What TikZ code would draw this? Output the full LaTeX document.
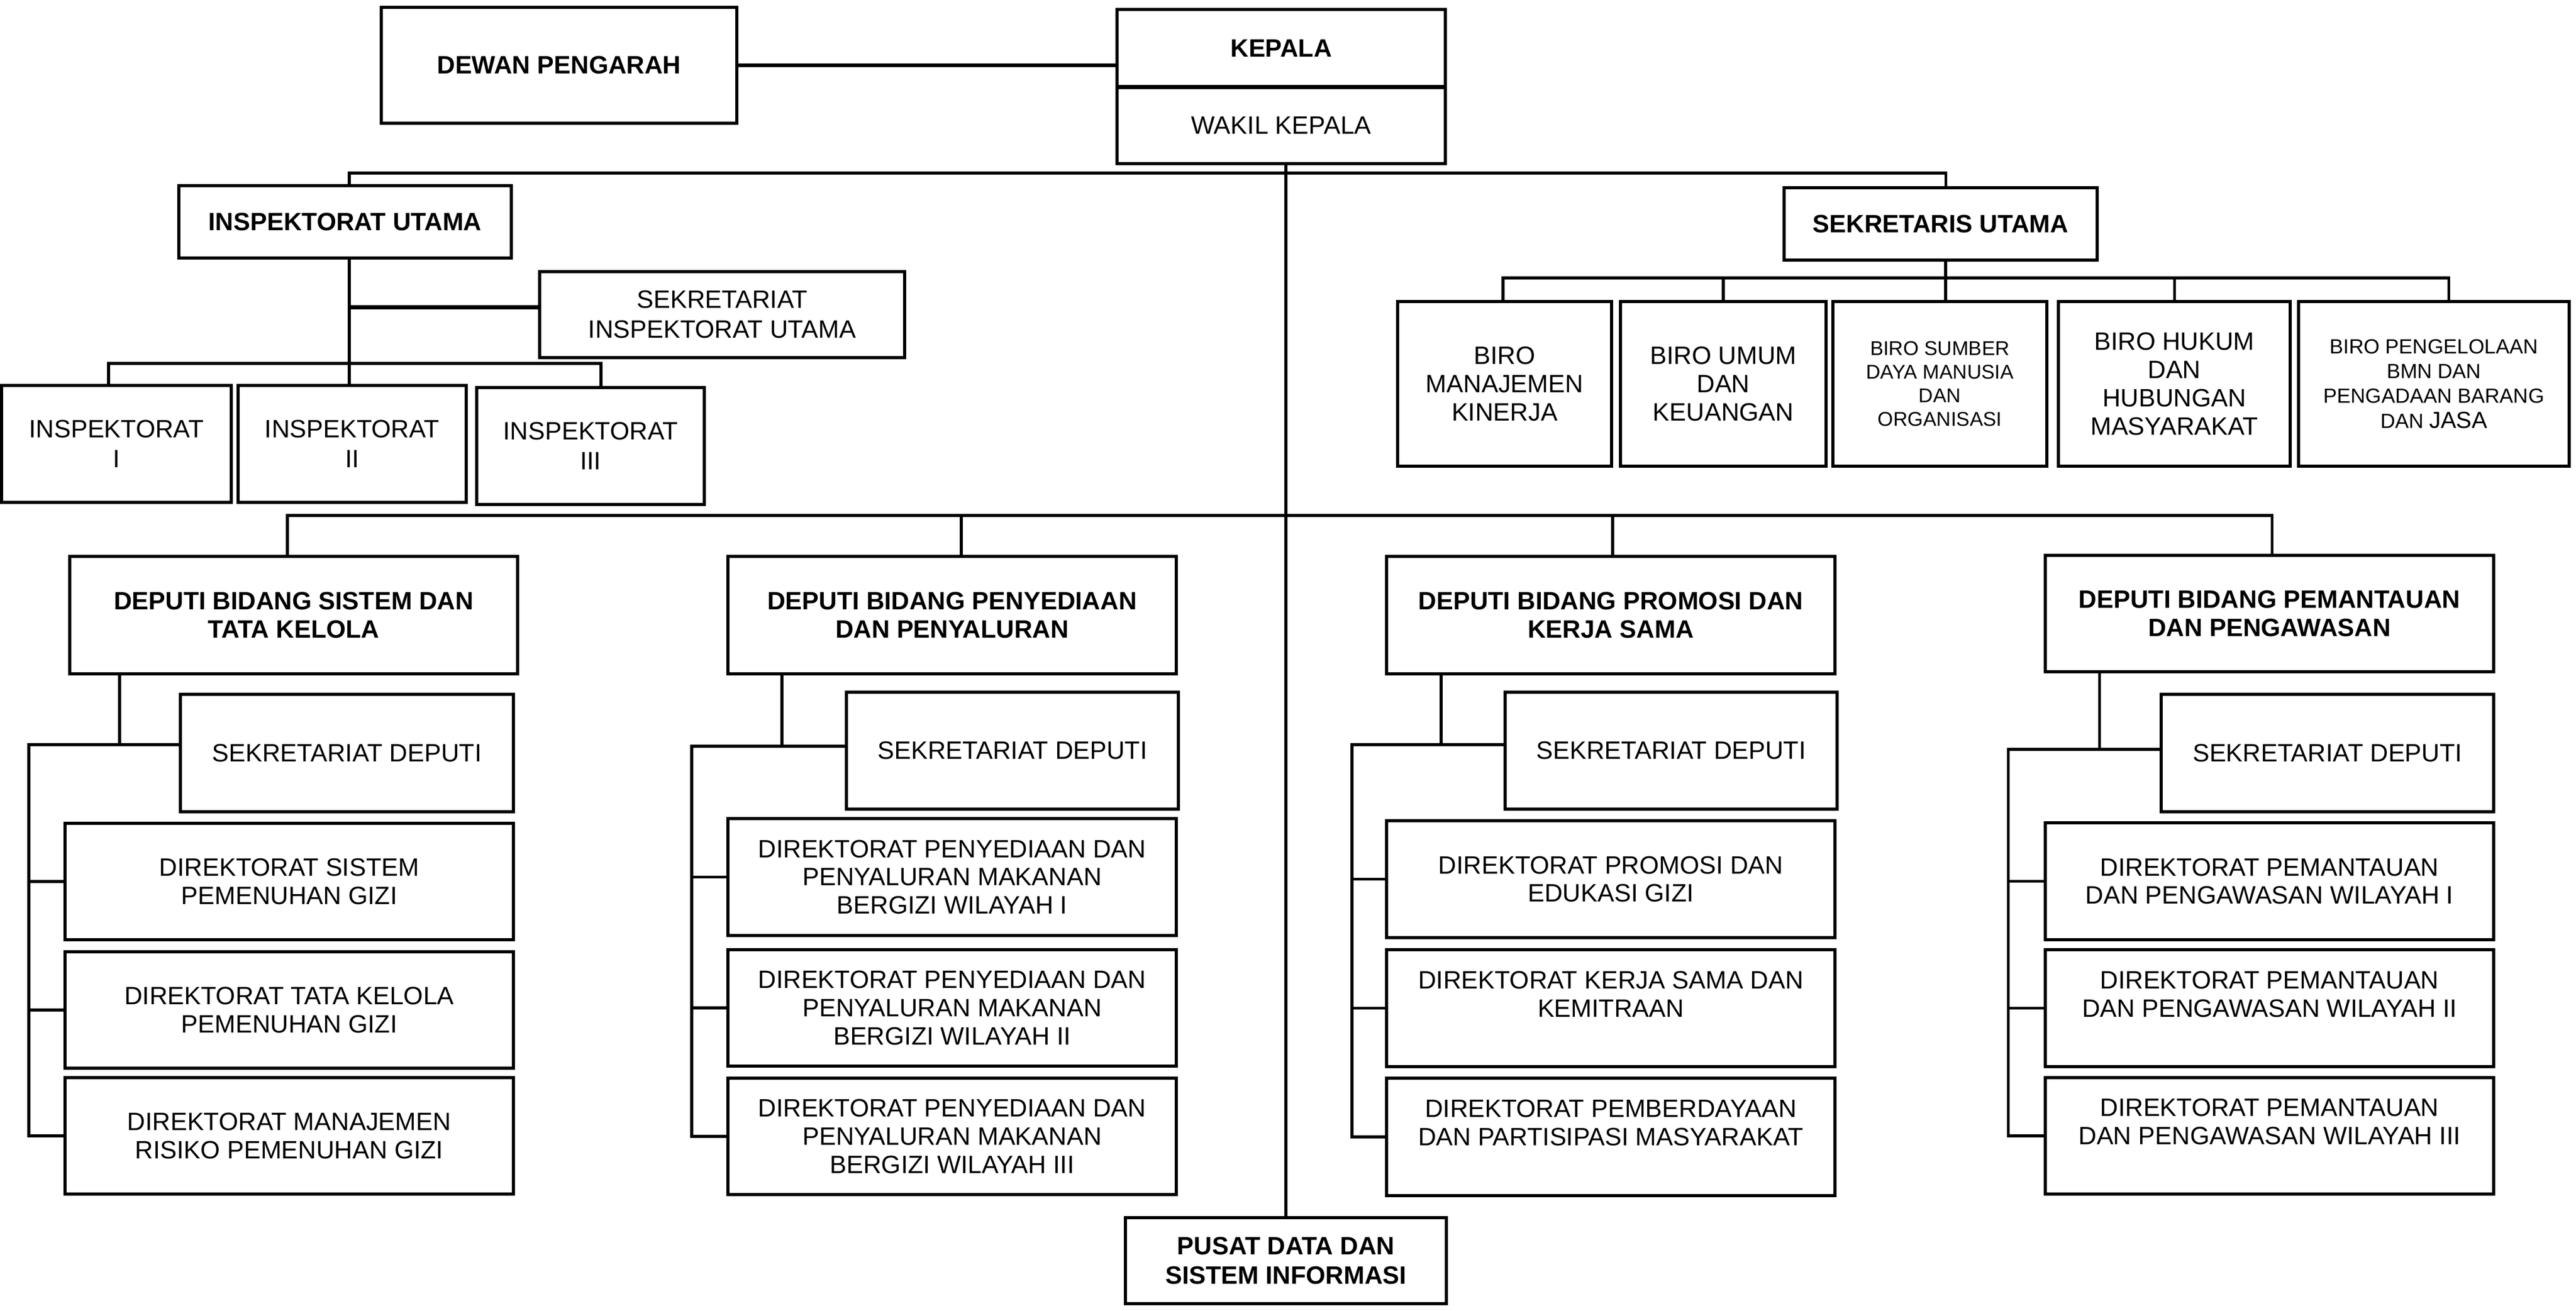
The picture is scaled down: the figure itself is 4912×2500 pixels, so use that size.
\documentclass[tikz,border=0pt]{standalone}
\usepackage{fontspec}
\setmainfont{Liberation Sans}
\newcommand\fm{\fontsize{13.6pt}{15.3pt}\selectfont}
\newcommand\fms{\fontsize{13.6pt}{16.2pt}\selectfont}
\newcommand\fs{\fontsize{10.8pt}{12.8pt}\selectfont}
\newcommand\fp{\fontsize{11.1pt}{13.4pt}\selectfont}
\newcommand\fj{\fontsize{12.6pt}{13.4pt}\selectfont}
% \bx[opts]{name}{x1}{y1}{x2}{y2}{text}
\newcommand\bx[7][]{\node[box,#1,minimum width={(#5-#3)*0.01cm},minimum height={(#6-#4)*0.01cm}] (#2) at ({(#3+#5)/2},{(#4+#6)/2}) {#7};}
% \colconn{deputi}{sekretariat}{dir1}{dir2}{dir3}{vx}{lx}{hy}
\newcommand\colconn[8]{%
  \draw[conn] (#6,0 |- #1.south) -- (#6,#8) -- (#2.west |- 0,#8);
  \draw[conn] (#6,#8) -- (#7,#8) -- (#7,0 |- #5.west) -- (#5.west);
  \draw[conn] (#7,0 |- #3.west) -- (#3.west);
  \draw[conn] (#7,0 |- #4.west) -- (#4.west);}
\begin{document}
\begin{tikzpicture}[x=0.01cm,y=-0.01cm,
  box/.style={draw=black, line width=1.6pt, inner sep=0pt, outer sep=0pt, align=center, font=\fm, fill=white},
  bt/.style={font=\fm\bfseries},
  conn/.style={line width=1.45pt, black},
  heavy/.style={line width=2pt, black},
  trunk/.style={line width=1.8pt, black}]
\fill[white] (0,0) rectangle (4912,2500);
\useasboundingbox (0,0) rectangle (4912,2500);

\coordinate (topbar) at (0,330);
\coordinate (birobar) at (0,530);
\coordinate (depbar) at (0,983);

% ---- top level ----
\bx[bt]{dewan}{727}{14}{1405}{235}{DEWAN PENGARAH}
\bx[bt]{kepala}{2130}{18}{2756}{166}{KEPALA}
\bx{wakil}{2130}{166}{2756}{312}{WAKIL KEPALA}
\bx[bt,font=\fms\bfseries]{pusat}{2146}{2322}{2758}{2486}{PUSAT DATA DAN\\SISTEM INFORMASI}

% ---- inspektorat ----
\bx[bt]{iu}{341}{354}{975}{492}{INSPEKTORAT UTAMA}
\bx[font=\fms]{sekiu}{1029}{518}{1725}{682}{SEKRETARIAT\\INSPEKTORAT UTAMA}
\bx[font=\fms]{insa}{3}{735}{441}{958}{INSPEKTORAT\\I}
\bx[font=\fms]{insb}{454}{735}{889}{958}{INSPEKTORAT\\II}
\bx[font=\fms]{insc}{909}{739}{1343}{962}{INSPEKTORAT\\III}

% ---- sekretaris utama ----
\bx[bt]{su}{3402}{358}{3999}{496}{SEKRETARIS UTAMA}
\bx{bmk}{2665}{575}{3073}{889}{BIRO\\MANAJEMEN\\KINERJA}
\bx{buk}{3090}{575}{3482}{889}{BIRO UMUM\\DAN\\KEUANGAN}
\bx[font=\fs]{bsdm}{3495}{575}{3903}{889}{BIRO SUMBER\\DAYA MANUSIA\\DAN\\ORGANISASI}
\bx{bhk}{3925}{575}{4367}{889}{BIRO HUKUM\\DAN\\HUBUNGAN\\MASYARAKAT}
\bx[font=\fp]{bpg}{4383}{575}{4899}{889}{BIRO PENGELOLAAN\\BMN DAN\\PENGADAAN BARANG\\DAN {\fj JASA}}

% ---- deputi ----
\bx[bt]{da}{133}{1061}{987}{1285}{DEPUTI BIDANG SISTEM DAN\\TATA KELOLA}
\bx[bt]{db}{1388}{1061}{2243}{1285}{DEPUTI BIDANG PENYEDIAAN\\DAN PENYALURAN}
\bx[bt]{dc}{2644}{1061}{3499}{1285}{DEPUTI BIDANG PROMOSI DAN\\KERJA SAMA}
\bx[bt]{dd}{3900}{1059}{4755}{1281}{DEPUTI BIDANG PEMANTAUAN\\DAN PENGAWASAN}

\bx{sa}{344}{1324}{979}{1548}{SEKRETARIAT DEPUTI}
\bx{sb}{1614}{1320}{2247}{1543}{SEKRETARIAT DEPUTI}
\bx{sc}{2870}{1320}{3503}{1543}{SEKRETARIAT DEPUTI}
\bx{sd}{4121}{1324}{4755}{1548}{SEKRETARIAT DEPUTI}

\bx{a1}{124}{1570}{979}{1792}{DIREKTORAT SISTEM\\PEMENUHAN GIZI}
\bx{a2}{124}{1815}{979}{2037}{DIREKTORAT TATA KELOLA\\PEMENUHAN GIZI}
\bx{a3}{124}{2055}{979}{2277}{DIREKTORAT MANAJEMEN\\RISIKO PEMENUHAN GIZI}

\bx{b1}{1388}{1561}{2243}{1784}{DIREKTORAT PENYEDIAAN DAN\\PENYALURAN MAKANAN\\BERGIZI WILAYAH I}
\bx{b2}{1388}{1811}{2243}{2033}{DIREKTORAT PENYEDIAAN DAN\\PENYALURAN MAKANAN\\BERGIZI WILAYAH II}
\bx{b3}{1388}{2056}{2243}{2278}{DIREKTORAT PENYEDIAAN DAN\\PENYALURAN MAKANAN\\BERGIZI WILAYAH III}

\bx{c1}{2644}{1565}{3499}{1788}{DIREKTORAT PROMOSI DAN\\EDUKASI GIZI}
\bx{c2}{2644}{1811}{3499}{2034}{DIREKTORAT KERJA SAMA DAN\\KEMITRAAN\\\mbox{}}
\bx{c3}{2644}{2056}{3499}{2280}{DIREKTORAT PEMBERDAYAAN\\DAN PARTISIPASI MASYARAKAT\\\mbox{}}

\bx{d1}{3900}{1569}{4755}{1792}{DIREKTORAT PEMANTAUAN\\DAN PENGAWASAN WILAYAH I}
\bx{d2}{3900}{1811}{4755}{2034}{DIREKTORAT PEMANTAUAN\\DAN PENGAWASAN WILAYAH II\\\mbox{}}
\bx{d3}{3900}{2055}{4755}{2277}{DIREKTORAT PEMANTAUAN\\DAN PENGAWASAN WILAYAH III\\\mbox{}}

% ---- connectors ----
\draw[heavy] (dewan.east) -- (dewan.east -| kepala.west);
\draw[line width=2.4pt] (kepala.south west) -- (kepala.south east);
\draw[trunk] (wakil.south -| pusat.north) -- (pusat.north);

% top bar to inspektorat utama and sekretaris utama
\coordinate (tl) at (666,330);
\coordinate (tr) at (3710,330);
\draw[conn] (tl |- iu.north) -- (tl) -- (tr) -- (tr |- su.north);

% inspektorat utama
\draw[conn] (tl |- iu.south) -- (tl |- insb.north);
\draw[heavy] (tl |- 0,586) -- (sekiu.west |- 0,586);
\coordinate (ia) at (207,693);
\coordinate (ic) at (1146,693);
\draw[conn] (ia |- insa.north) -- (ia) -- (ic) -- (ic |- insc.north);

% sekretaris utama
\draw[trunk] (tr |- su.south) -- (tr |- bsdm.north);
\coordinate (bl) at (2866,530);
\coordinate (br) at (4669,530);
\draw[conn] (bl |- bmk.north) -- (bl) -- (br) -- (br |- bpg.north);
\draw[conn] (buk.north |- birobar) -- (buk.north);
\draw[conn] (bhk.north |- birobar) -- (bhk.north);

% deputi bar
\coordinate (pa) at (548,983);
\coordinate (pb) at (1833,983);
\coordinate (pc) at (3075,983);
\coordinate (pd) at (4332,983);
\draw[conn] (pa |- da.north) -- (pa) -- (pd) -- (pd |- dd.north);
\draw[conn] (pb) -- (pb |- db.north);
\draw[conn] (pc) -- (pc |- dc.north);

% deputi columns
\colconn{da}{sa}{a1}{a2}{a3}{228}{55}{1420}
\colconn{db}{sb}{b1}{b2}{b3}{1491}{1319}{1423}
\colconn{dc}{sc}{c1}{c2}{c3}{2748}{2578}{1420}
\colconn{dd}{sd}{d1}{d2}{d3}{4003}{3829}{1429}
\end{tikzpicture}
\end{document}
